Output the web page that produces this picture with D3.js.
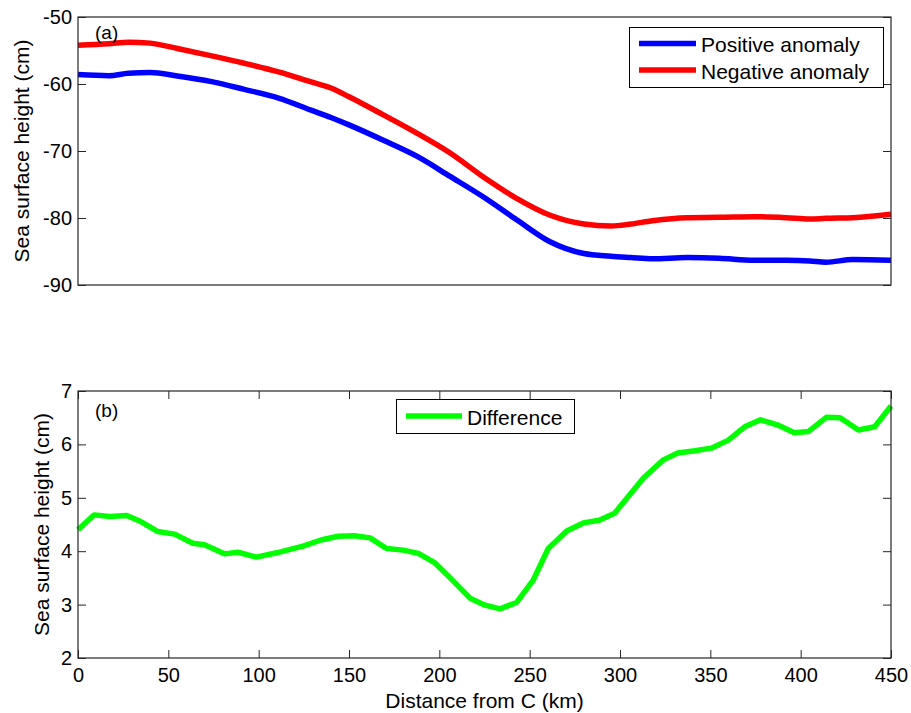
<!DOCTYPE html>
<html><head><meta charset="utf-8">
<script src="https://cdn.jsdelivr.net/npm/d3@7"></script>
<style>
html,body{margin:0;padding:0;background:#fff;}
svg{display:block;font-family:"Liberation Sans",Arial,sans-serif;}
</style></head>
<body>
<svg id="c" width="911" height="713"></svg>
<script>
// ---- Data ----
const kmTop = [0, 17, 28, 40, 55, 74, 92, 111, 129, 140, 150, 169, 188, 206, 224, 243, 261, 280, 295, 306, 318, 337, 355, 374, 392, 405, 414, 429, 450];
const positiveAnomaly = [-58.6, -58.75, -58.4, -58.3, -58.8, -59.65, -60.8, -62.1, -63.9, -65.0, -66.1, -68.4, -70.85, -73.8, -76.8, -80.3, -83.5, -85.3, -85.7, -85.9, -86.1, -85.9, -86.0, -86.3, -86.3, -86.4, -86.6, -86.2, -86.3];
const negativeAnomaly = [-54.2, -54.0, -53.75, -53.9, -54.7, -55.8, -56.9, -58.2, -59.7, -60.6, -61.9, -64.6, -67.4, -70.3, -73.8, -77.1, -79.55, -80.9, -81.2, -80.9, -80.4, -79.95, -79.9, -79.8, -79.95, -80.15, -80.05, -79.95, -79.45];

const kmDiff = [0, 9, 17.5, 27, 35, 44, 53.5, 63.5, 70, 81, 88.5, 98.7, 110, 125, 134.5, 144, 153, 161.6, 170.8, 180, 188.4, 197.6, 206, 217, 225.3, 233.6, 242.8, 252, 260.3, 270.5, 279.7, 288.5, 297, 305.5, 313, 324, 332, 341.5, 350.5, 360, 369, 377.8, 387.6, 396.5, 404.2, 414.4, 421.8, 432, 441, 450];
const difference = [4.40, 4.68, 4.65, 4.67, 4.55, 4.37, 4.32, 4.15, 4.12, 3.95, 3.98, 3.89, 3.97, 4.10, 4.21, 4.28, 4.29, 4.25, 4.05, 4.02, 3.96, 3.78, 3.50, 3.12, 2.99, 2.92, 3.04, 3.46, 4.05, 4.38, 4.53, 4.58, 4.71, 5.06, 5.37, 5.71, 5.84, 5.88, 5.93, 6.08, 6.33, 6.46, 6.36, 6.22, 6.24, 6.51, 6.50, 6.27, 6.33, 6.72];

const xTicks = [0, 50, 100, 150, 200, 250, 300, 350, 400, 450];
const yTicksTop = [-90, -80, -70, -60, -50];
const yTicksBottom = [2, 3, 4, 5, 6, 7];
const seriesNames = ["Positive anomaly", "Negative anomaly", "Difference"];
const seriesColors = ["#0000ff", "#ff0000", "#00ff00"];

// ---- Layout ----
const svg = d3.select("#c");
const L = 78, R = 891;
const topP = {y0: 17, y1: 285};
const botP = {y0: 391, y1: 658};
const axisColor = "#262626";
const fmt = d => String(d);

const x = d3.scaleLinear().domain([0, 450]).range([L, R]);
const yTop = d3.scaleLinear().domain([-90, -50]).range([topP.y1, topP.y0]);
const yBot = d3.scaleLinear().domain([2, 7]).range([botP.y1, botP.y0]);

function styleAxis(g){
  g.select(".domain").remove();
  g.selectAll(".tick line").attr("stroke", axisColor).attr("stroke-width", 1);
  g.selectAll(".tick text").attr("fill", "#000").attr("font-size", 20).attr("font-family", '"Liberation Sans",Arial,sans-serif');
}

// ---- Top panel ----
const gt = svg.append("g");
gt.append("g").attr("transform", `translate(${L},0)`)
  .call(d3.axisLeft(yTop).tickValues(yTicksTop).tickSize(-8).tickPadding(6).tickFormat(fmt))
  .call(styleAxis);
gt.append("g").attr("transform", `translate(${R},0)`)
  .call(d3.axisRight(yTop).tickValues(yTicksTop).tickSize(-8).tickFormat(""))
  .call(styleAxis);

const lineTop = vals => d3.line().x((d, i) => x(kmTop[i])).y(d => yTop(d)).curve(d3.curveMonotoneX)(vals);
gt.append("path").attr("d", lineTop(positiveAnomaly)).attr("fill", "none").attr("stroke", seriesColors[0]).attr("stroke-width", 5.5).attr("stroke-linejoin", "round");
gt.append("path").attr("d", lineTop(negativeAnomaly)).attr("fill", "none").attr("stroke", seriesColors[1]).attr("stroke-width", 5.5).attr("stroke-linejoin", "round");

gt.append("rect").attr("x", L).attr("y", topP.y0).attr("width", R - L).attr("height", topP.y1 - topP.y0)
  .attr("fill", "none").attr("stroke", axisColor).attr("stroke-width", 1.2);

gt.append("text").attr("x", 95).attr("y", 39).attr("font-size", 19).text("(a)");

// legend top
const lg = gt.append("g");
lg.append("rect").attr("x", 629.5).attr("y", 27.5).attr("width", 254).attr("height", 60).attr("fill", "#fff").attr("stroke", "#000").attr("stroke-width", 1);
[0, 1].forEach(i => {
  const yy = [43.5, 70][i];
  lg.append("line").attr("x1", 639).attr("x2", 696).attr("y1", yy).attr("y2", yy).attr("stroke", seriesColors[i]).attr("stroke-width", 5.5);
  lg.append("text").attr("x", 701).attr("y", [51.5, 78.5][i]).attr("font-size", 21).text(seriesNames[i]);
});

gt.append("text").attr("transform", `translate(29,${(topP.y0 + topP.y1) / 2}) rotate(-90)`)
  .attr("text-anchor", "middle").attr("font-size", 21).text("Sea surface height (cm)");

// ---- Bottom panel ----
const gb = svg.append("g");
gb.append("g").attr("transform", `translate(${L},0)`)
  .call(d3.axisLeft(yBot).tickValues(yTicksBottom).tickSize(-8).tickPadding(6).tickFormat(fmt))
  .call(styleAxis);
gb.append("g").attr("transform", `translate(${R},0)`)
  .call(d3.axisRight(yBot).tickValues(yTicksBottom).tickSize(-8).tickFormat(""))
  .call(styleAxis);
gb.append("g").attr("transform", `translate(0,${botP.y1})`)
  .call(d3.axisBottom(x).tickValues(xTicks).tickSize(-8).tickPadding(10).tickFormat(fmt))
  .call(styleAxis);
gb.append("g").attr("transform", `translate(0,${botP.y0})`)
  .call(d3.axisTop(x).tickValues(xTicks).tickSize(-8).tickFormat(""))
  .call(styleAxis);

const lineBot = d3.line().x((d, i) => x(kmDiff[i])).y(d => yBot(d));
gb.append("path").attr("d", lineBot(difference)).attr("fill", "none").attr("stroke", seriesColors[2]).attr("stroke-width", 5.5).attr("stroke-linejoin", "round");

gb.append("rect").attr("x", L).attr("y", botP.y0).attr("width", R - L).attr("height", botP.y1 - botP.y0)
  .attr("fill", "none").attr("stroke", axisColor).attr("stroke-width", 1.2);

gb.append("text").attr("x", 95).attr("y", 417).attr("font-size", 19).text("(b)");

const lb = gb.append("g");
lb.append("rect").attr("x", 396.5).attr("y", 399.5).attr("width", 178).attr("height", 34).attr("fill", "#fff").attr("stroke", "#000").attr("stroke-width", 1);
lb.append("line").attr("x1", 406).attr("x2", 462).attr("y1", 416).attr("y2", 416).attr("stroke", seriesColors[2]).attr("stroke-width", 5.5);
lb.append("text").attr("x", 467).attr("y", 424.5).attr("font-size", 21).text(seriesNames[2]);

gb.append("text").attr("transform", `translate(49,${(botP.y0 + botP.y1) / 2}) rotate(-90)`)
  .attr("text-anchor", "middle").attr("font-size", 21).text("Sea surface height (cm)");

svg.append("text").attr("x", (L + R) / 2).attr("y", 708).attr("text-anchor", "middle").attr("font-size", 21).text("Distance from C (km)");
</script>
</body></html>
